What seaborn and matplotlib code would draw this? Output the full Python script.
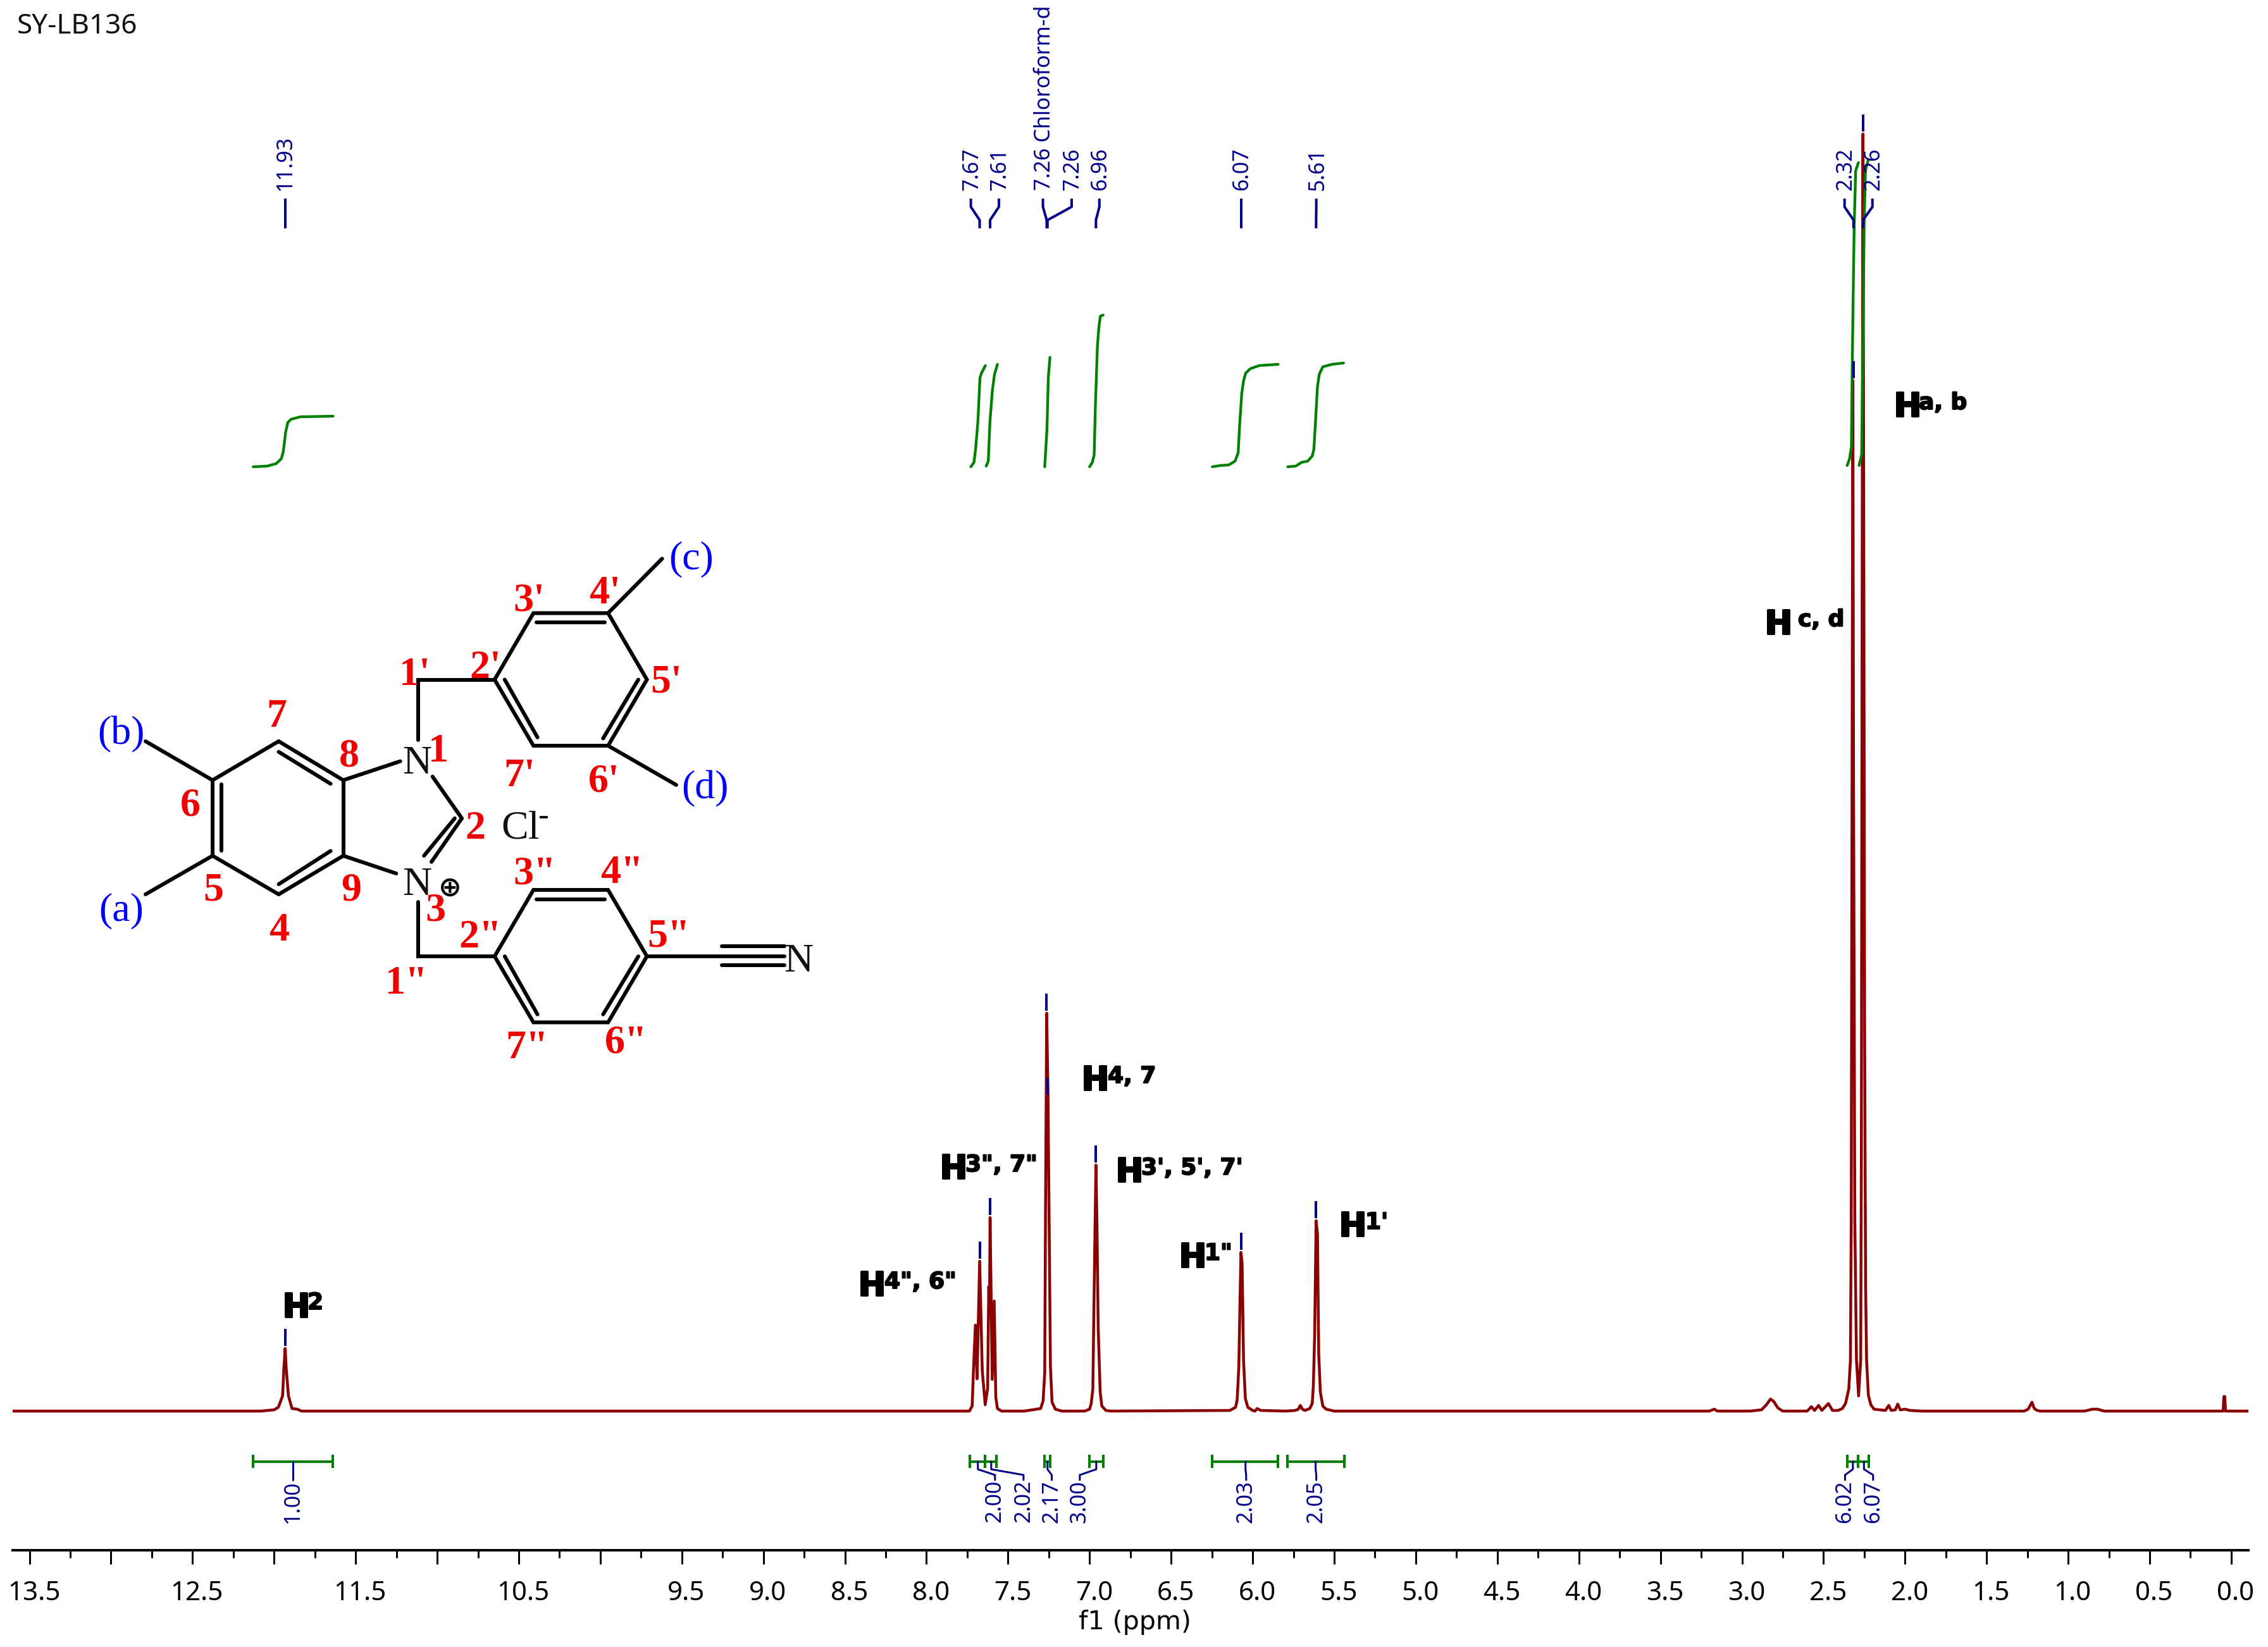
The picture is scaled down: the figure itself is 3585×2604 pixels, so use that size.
import matplotlib
matplotlib.use("Agg")
import matplotlib.pyplot as plt
import matplotlib.patheffects as pe
from matplotlib.transforms import ScaledTranslation
import numpy as np
import seaborn as sns

# spectrum trace: chemical shift and height above the baseline
trace_ppm = [13.60, 12.20, 12.08, 12.00, 11.974, 11.948, 11.94, 11.932, 11.926, 11.912, 11.89, 11.858, 11.832,
             7.737, 7.72, 7.712, 7.70, 7.69, 7.674, 7.658, 7.64, 7.625, 7.618, 7.614, 7.61, 7.597, 7.585, 7.575, 7.565, 7.54,
             7.40, 7.30, 7.285, 7.275, 7.270, 7.263, 7.255, 7.248, 7.240, 7.230, 7.21, 7.17,
             7.03, 7.00, 6.99, 6.98, 6.972, 6.961, 6.955, 6.947, 6.935, 6.925, 6.90, 6.87,
             6.14, 6.105, 6.095, 6.085, 6.072, 6.065, 6.056, 6.045, 6.03, 6.00, 5.985, 5.973, 5.95,
             5.80, 5.74, 5.72, 5.708, 5.695, 5.68, 5.65, 5.635, 5.628, 5.62, 5.611, 5.603, 5.595, 5.585, 5.57, 5.55, 5.50,
             3.20, 3.17, 3.15, 2.95, 2.88, 2.85, 2.825, 2.805, 2.78, 2.75, 2.60, 2.574, 2.555, 2.53, 2.51, 2.47, 2.445, 2.41,
             2.385, 2.365, 2.345, 2.335, 2.33, 2.325, 2.32, 2.316, 2.308, 2.298, 2.285, 2.272, 2.268, 2.262, 2.258, 2.254,
             2.248, 2.242, 2.236, 2.225, 2.21, 2.19, 2.12, 2.10, 2.085, 2.06, 2.045, 2.03, 2.00, 1.97, 1.90,
             1.27, 1.245, 1.222, 1.208, 1.19, 1.17, 0.90, 0.85, 0.82, 0.78, 0.05, 0.045, 0.04, 0.035, -0.105]
trace_height = [0, 0, 0, 2, 6, 24, 68, 99, 68, 24, 4, 3, 0,
                0, 8, 64, 136, 51, 237, 64, 10, 36, 197, 150, 306, 50, 174, 22, 4, 0,
                0, 4, 16, 60, 320, 629, 500, 300, 70, 14, 3, 0,
                0, 3, 12, 35, 190, 389, 300, 130, 30, 8, 1, 0,
                1, 6, 18, 70, 251, 235, 80, 20, 6, 1, 0, 4, 1,
                0, 1, 3, 9, 3, 1, 4, 12, 40, 120, 301, 280, 90, 30, 8, 3, 0,
                0, 3, 0, 0, 2, 10, 19, 15, 5, 0, 0, 7, 1, 9, 1, 12, 1, 1,
                4, 12, 35, 80, 300, 1000, 1629, 1000, 300, 81, 24, 81, 400, 1500, 2019, 1500,
                600, 200, 81, 25, 10, 3, 1, 9, 1, 2, 11, 2, 3, 1, 0,
                0, 3, 14, 4, 1, 0, 0, 3, 3, 0, 0, 23, 23, 0, 0]

# integral curves
int_a_ppm = [12.128, 12.044, 11.987, 11.955, 11.943, 11.929, 11.916, 11.897, 11.839, 11.638]
int_a_h = [1493, 1494, 1498, 1506, 1518, 1548, 1563, 1568, 1572, 1573]
int_b_ppm = [7.728, 7.709, 7.699, 7.685, 7.672, 7.663, 7.639]
int_b_h = [1493, 1500, 1520, 1564, 1634, 1641, 1653]
int_c_ppm = [7.634, 7.621, 7.611, 7.596, 7.583, 7.565]
int_c_h = [1494, 1502, 1564, 1614, 1639, 1655]
int_d_ppm = [7.275, 7.262, 7.258, 7.253, 7.243]
int_d_h = [1493, 1549, 1584, 1634, 1666]
int_e_ppm = [7.00, 6.983, 6.972, 6.965, 6.952, 6.943, 6.934, 6.917]
int_e_h = [1493, 1500, 1512, 1584, 1684, 1714, 1731, 1733]
int_f_ppm = [6.247, 6.20, 6.145, 6.108, 6.089, 6.08, 6.067, 6.056, 6.043, 6.015, 5.96, 5.905, 5.844]
int_f_h = [1493, 1495, 1496, 1502, 1515, 1559, 1609, 1629, 1641, 1648, 1653, 1654, 1655]
int_g_ppm = [5.785, 5.737, 5.70, 5.662, 5.635, 5.625, 5.616, 5.603, 5.592, 5.57, 5.514, 5.443]
int_g_h = [1493, 1494, 1500, 1502, 1510, 1520, 1559, 1619, 1639, 1651, 1655, 1657]
int_h_ppm = [2.355, 2.34, 2.329, 2.325, 2.319, 2.312, 2.303, 2.286]
int_h_h = [1495, 1506, 1525, 1625, 1749, 1873, 1961, 1974]
int_i_ppm = [2.282, 2.266, 2.261, 2.256, 2.251, 2.243, 2.225]
int_i_h = [1495, 1512, 1625, 1749, 1873, 1961, 1979]

# picked peaks
peak_labels = ["11.93", "7.67", "7.61", "7.26 Chloroform-d", "7.26", "6.96", "6.07", "5.61", "2.32", "2.26"]
peak_ppm = [11.93, 7.674, 7.61, 7.263, 7.258, 6.961, 6.07, 5.611, 2.316, 2.258]
peak_tops = [99, 237, 306, 629, 496, 389, 251, 301, 1629, 2019]
peak_text_ppm = [11.93, 7.72, 7.55, 7.277, 7.104, 6.934, 6.067, 5.603, 2.366, 2.193]
peak_lead_ppm = [11.93, 7.728, 7.556, 7.286, 7.11, 6.94, 6.07, 5.61, 2.371, 2.20]

# integral regions
region_edges = [[12.128, 11.639], [7.735, 7.642, 7.57], [7.277, 7.242], [7.00, 6.917],
                [6.249, 5.844], [5.788, 5.439], [2.354, 2.287, 2.223]]
region_labels = ["1.00", "2.00", "2.02", "2.17", "3.00", "2.03", "2.05", "6.02", "6.07"]
region_stem_ppm = [11.883, 7.685, 7.603, 7.258, 6.959, 6.044, 5.614, 2.32, 2.252]
region_text_ppm = [11.883, 7.58, 7.405, 7.232, 7.06, 6.04, 5.61, 2.368, 2.196]

major_ticks = [13.5, 13.0, 12.5, 12.0, 11.5, 11.0, 10.5, 10.0, 9.5, 9.0, 8.5, 8.0, 7.5, 7.0, 6.5, 6.0,
               5.5, 5.0, 4.5, 4.0, 3.5, 3.0, 2.5, 2.0, 1.5, 1.0, 0.5, 0.0]
major_labels = ["13.5", "", "12.5", "", "11.5", "", "10.5", "", "9.5", "9.0", "8.5", "8.0", "7.5", "7.0", "6.5", "6.0",
                "5.5", "5.0", "4.5", "4.0", "3.5", "3.0", "2.5", "2.0", "1.5", "1.0", "0.5", "0.0"]
minor_ticks = [13.25, 12.75, 12.25, 11.75, 11.25, 10.75, 10.25, 9.75, 9.25, 8.75, 8.25, 7.75, 7.25, 6.75,
               6.25, 5.75, 5.25, 4.75, 4.25, 3.75, 3.25, 2.75, 2.25, 1.75, 1.25, 0.75, 0.25]

# assignment labels on the spectrum: text, H left, H baseline, superscript left, superscript baseline
h_sup = ["2", '4", 6"', '3", 7"', "4, 7", "3', 5', 7'", '1"', "1'", "c, d", "a, b"]
h_x = [446, 1356, 1485, 1709, 1763, 1863, 2116, 2789, 2993]
h_y = [2082, 2048, 1863, 1723, 1868, 2003, 1954, 1002, 658]
sup_x = [486, 1398, 1526, 1751, 1804, 1904, 2158, 2842, 3033]
sup_y = [2070, 2037, 1852, 1712, 1857, 1992, 1943, 990, 647]

# structure drawing, in image pixels
bonds = [
    [(230, 1172), (336, 1233.5)], [(230, 1414), (336, 1353)], [(336, 1233.5), (336, 1353)],
    [(349.6, 1240.4), (349.6, 1345.4)], [(336, 1233.5), (440.5, 1172)], [(440.5, 1172), (542.6, 1233.5)],
    [(440.5, 1188.7), (522.6, 1239.2)], [(542.6, 1233.5), (542.6, 1353)], [(542.6, 1353), (440.5, 1414)],
    [(522.6, 1345.4), (440.5, 1398)], [(440.5, 1414), (336, 1353)], [(542.6, 1233.5), (632.7, 1203.6)],
    [(542.6, 1353), (626.3, 1381)], [(683.7, 1227.8), (730, 1293.8)], [(730, 1293.8), (682, 1362.7)],
    [(718.8, 1293.8), (670.2, 1353)], [(660.6, 1170.4), (660.6, 1074.5), (781.8, 1074.5)],
    [(781.8, 1074.5), (843.2, 969.4), (961.2, 969.4), (1022.6, 1074.5), (961.2, 1179), (843.2, 1179), (781.8, 1074.5)],
    [(848, 983.8), (955.7, 983.8)], [(1009, 1074.5), (953.3, 1167.5)], [(849.6, 1165.8), (797.8, 1074.5)],
    [(961.2, 969.4), (1046.6, 883.3)], [(961.2, 1179), (1068.9, 1241)],
    [(660.6, 1425.8), (660.6, 1512), (781.8, 1512)],
    [(781.8, 1512), (843.2, 1407), (961.2, 1407), (1022.6, 1512), (961.2, 1616.4), (843.2, 1616.4), (781.8, 1512)],
    [(848, 1421.8), (955.7, 1421.8)], [(1009, 1512), (953.3, 1603.8)], [(849.6, 1603.8), (797.8, 1512)],
    [(1022.6, 1512), (1240.3, 1512)], [(1140.7, 1496.4), (1240.3, 1496.4)], [(1140.7, 1526.3), (1240.3, 1526.3)],
]
red_numbers = ["1", "2", "3", "4", "5", "6", "7", "8", "9", "1'", "2'", "3'", "4'", "5'", "6'", "7'",
               '1"', '2"', '3"', '4"', '5"', '6"', '7"']
red_x = [692.5, 751.5, 688.5, 441.3, 336.8, 301, 437.3, 552, 555.3, 656, 767.5, 836, 955.7, 1053, 954.9, 821.7,
         642.3, 759.5, 845.6, 982.8, 1057, 990, 833.6]
red_y = [1188.7, 1311, 1440, 1471.7, 1408.6, 1275, 1134, 1196, 1408.6, 1068, 1057, 950.5, 939, 1079.7, 1236.4, 1227.8,
         1556, 1483, 1382.8, 1381, 1481.5, 1649.7, 1658.3]
blue_letters = ["(a)", "(b)", "(c)", "(d)"]
blue_x = [191.7, 191.7, 1092.8, 1114.4]
blue_y = [1440, 1161.8, 884.5, 1247.9]
atom_labels = ["N", "N", "N", "Cl"]
atom_x = [659, 659, 1262, 823]
atom_y = [1208, 1400, 1520.5, 1311]

DPI = 100
W, H = 3585, 2604
px = 72 / DPI  # one image pixel in points
NAVY = "#00008b"
GREEN = "#008000"
RED = "#8b0000"

sns.set_theme(style="white")
plt.rcParams["font.family"] = ["Noto Sans", "DejaVu Sans"]

fig = plt.figure(figsize=(W / DPI, H / DPI), dpi=DPI)
fig.patch.set_facecolor("white")

# x in ppm, y in image pixels above the spectrum baseline
ax = fig.add_axes([20 / W, (H - 2451) / H, (3554 - 20) / W, 2451 / H])
ax.set_xlim(13.603, -0.105)
ax.set_ylim(-220, 2231)
ax.patch.set_alpha(0)

sns.lineplot(x=trace_ppm, y=trace_height, sort=False, estimator=None, color=RED, linewidth=4.5 * px, ax=ax, zorder=2)

integrals = [(int_a_ppm, int_a_h), (int_b_ppm, int_b_h), (int_c_ppm, int_c_h), (int_d_ppm, int_d_h), (int_e_ppm, int_e_h),
             (int_f_ppm, int_f_h), (int_g_ppm, int_g_h), (int_h_ppm, int_h_h), (int_i_ppm, int_i_h)]
for int_ppm, int_h in integrals:
    sns.lineplot(x=int_ppm, y=int_h, sort=False, estimator=None, color=GREEN, linewidth=4.3 * px, ax=ax, zorder=3)

# peak markers, leaders and labels
ax.vlines(peak_ppm, np.array(peak_tops) + 4, np.array(peak_tops) + 31, color=NAVY, linewidth=4 * px, zorder=4)
for name, pos, text_pos, lead in zip(peak_labels, peak_ppm, peak_text_ppm, peak_lead_ppm):
    ax.plot([lead, lead, pos, pos], [1917, 1904, 1883, 1870], color=NAVY, linewidth=4 * px, zorder=4,
            solid_capstyle="butt")
    ax.text(text_pos, 1930, name, rotation=90, ha="center", va="bottom", color=NAVY, fontsize=34 * px, zorder=5)

# integral regions
for edges in region_edges:
    ax.plot([edges[0], edges[-1]], [-80, -80], color=GREEN, linewidth=4 * px, zorder=3, solid_capstyle="butt")
    ax.vlines(edges, -90, -69, color=GREEN, linewidth=4 * px, zorder=3)
for name, stem, text_pos in zip(region_labels, region_stem_ppm, region_text_ppm):
    if stem == text_pos:
        ax.plot([stem, text_pos], [-80, -109], color=NAVY, linewidth=3 * px, zorder=4)
    else:
        ax.plot([stem, stem, text_pos, text_pos], [-80, -92, -101, -109], color=NAVY, linewidth=3 * px, zorder=4)
    ax.text(text_pos, -109, name, rotation=90, ha="center", va="top", color=NAVY, fontsize=34 * px, zorder=5)

# ppm axis
sns.despine(ax=ax, left=True)
ax.spines["bottom"].set_linewidth(4 * px)
ax.spines["bottom"].set_color("black")
ax.set_yticks([])
ax.set_xticks(major_ticks, major_labels)
ax.set_xticks(minor_ticks, minor=True)
ax.tick_params(axis="x", which="major", bottom=True, length=22 * px, width=3 * px, color="black",
               labelsize=42 * px, pad=25 * px, labelcolor="black")
ax.tick_params(axis="x", which="minor", bottom=True, length=12 * px, width=3 * px, color="black")
shift = ScaledTranslation(7 / DPI, 0, fig.dpi_scale_trans)
for label in ax.get_xticklabels():
    label.set_transform(label.get_transform() + shift)
ax.set_xlabel("f1 (ppm)", fontsize=41 * px, family="DejaVu Sans", labelpad=5 * px, color="black")
ax.xaxis.label.set_x(0.502)

# overlay in image pixels for the annotations and the structure
over = fig.add_axes([0, 0, 1, 1])
over.set_xlim(0, W)
over.set_ylim(H, 0)
over.axis("off")
over.patch.set_alpha(0)

over.text(27, 42, "SY-LB136", ha="left", va="center", color="#101010", fontsize=44 * px)

bold = dict(family="DejaVu Sans", weight="bold", color="black")
for sup, hx, hy, sx, sy in zip(h_sup, h_x, h_y, sup_x, sup_y):
    over.text(hx, hy, "H", ha="left", va="baseline", fontsize=52 * px,
              path_effects=[pe.withStroke(linewidth=3 * px, foreground="black")], **bold)
    over.text(sx, sy, sup, ha="left", va="baseline", fontsize=36 * px,
              path_effects=[pe.withStroke(linewidth=2 * px, foreground="black")], **bold)

for bond in bonds:
    xs, ys = zip(*bond)
    over.plot(xs, ys, color="black", linewidth=6 * px, solid_capstyle="round", solid_joinstyle="miter")

serif = "Liberation Serif"
for name, x, y in zip(red_numbers, red_x, red_y):
    over.text(x, y, name, ha="center", va="center", family=serif, weight="bold", color="#f00000", fontsize=64 * px)
for name, x, y in zip(blue_letters, blue_x, blue_y):
    over.text(x, y, name, ha="center", va="center", family=serif, color="#0000ff", fontsize=64 * px)
for name, x, y in zip(atom_labels, atom_x, atom_y):
    over.text(x, y, name, ha="center", va="center", family=serif, color="#101010", fontsize=64 * px)
over.text(858, 1292, "-", ha="center", va="center", family=serif, color="#101010", fontsize=50 * px)
over.text(711.6, 1404.6, "\u2295", ha="center", va="center", family="DejaVu Sans", weight="bold", color="black",
          fontsize=44 * px)

fig.savefig("out.png", dpi=DPI, facecolor="white")
